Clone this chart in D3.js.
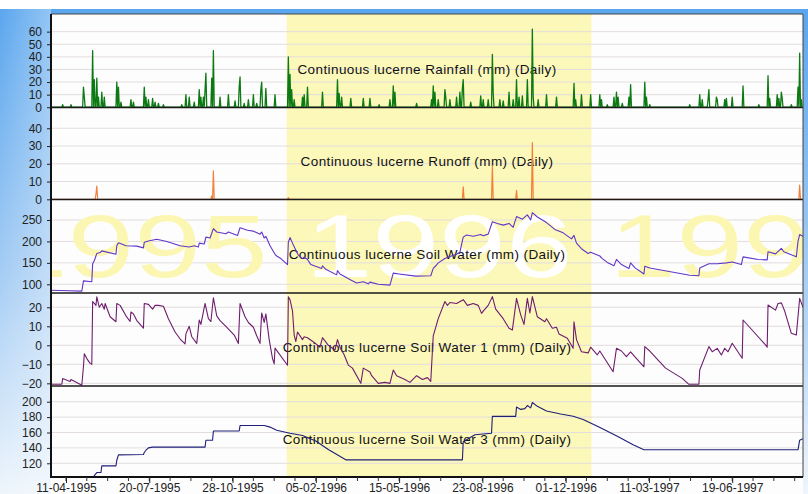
<!DOCTYPE html>
<html><head><meta charset="utf-8">
<script src="https://cdn.jsdelivr.net/npm/d3@7"></script>
<style>
html,body{margin:0;padding:0;background:#fff;}
svg{display:block;font-family:"Liberation Sans",Arial,sans-serif;}
</style></head><body>
<svg id="chart" width="808" height="494"></svg>
<script>
// Daily rainfall events (mm); days not listed had no rain
const rainfall = [
["1995-04-07",2],["1995-04-17",2],["1995-05-02",16],["1995-05-03",8],["1995-05-13",45],["1995-05-15",22],["1995-05-18",23],["1995-05-20",8],["1995-05-24",12],["1995-05-27",8],["1995-06-11",20],["1995-06-13",16],["1995-06-16",4],["1995-06-28",6],["1995-07-01",4],["1995-07-14",16],["1995-07-16",8],["1995-07-19",6],["1995-07-24",7],["1995-07-27",4],["1995-07-31",3],["1995-08-06",2],["1995-08-28",2],["1995-09-02",10],["1995-09-06",8],["1995-09-12",4],["1995-09-18",14],["1995-09-20",8],["1995-09-23",8],["1995-09-25",14],["1995-09-26",27],["1995-10-03",23],["1995-10-05",45],["1995-10-13",8],["1995-10-23",10],["1995-10-31",5],["1995-11-05",16],["1995-11-06",24],["1995-11-11",3],["1995-11-16",6],["1995-11-22",10],["1995-11-26",3],["1995-12-01",14],["1995-12-02",20],["1995-12-07",15],["1995-12-18",10],
["1996-01-03",40],["1996-01-05",26],["1996-01-07",14],["1996-01-10",6],["1996-01-20",8],["1996-01-22",10],["1996-01-26",16],["1996-02-13",12],["1996-03-02",22],["1996-03-04",11],["1996-03-07",8],["1996-03-18",7],["1996-04-02",7],["1996-04-10",7],["1996-04-21",2],["1996-05-04",6],["1996-05-08",17],["1996-05-10",12],["1996-06-05",3],["1996-06-23",6],["1996-06-25",17],["1996-06-27",12],["1996-07-01",6],["1996-07-09",14],["1996-07-10",8],["1996-07-15",6],["1996-07-23",8],["1996-07-27",12],["1996-07-30",15],["1996-07-31",22],["1996-08-09",4],["1996-08-21",9],["1996-08-24",6],["1996-08-30",6],["1996-09-04",42],["1996-09-05",11],["1996-09-13",6],["1996-09-17",5],["1996-09-24",12],["1996-09-29",6],["1996-10-03",22],["1996-10-06",8],["1996-10-10",9],["1996-10-16",22],["1996-10-22",62],["1996-10-23",8],["1996-10-29",6],["1996-11-08",10],["1996-11-20",8],["1996-12-11",19],["1996-12-13",6],["1996-12-20",10],["1996-12-31",10],
["1997-01-11",10],["1997-01-13",6],["1997-01-20",2],["1997-01-28",8],["1997-01-31",12],["1997-02-02",8],["1997-02-07",3],["1997-02-15",8],["1997-02-17",18],["1997-03-06",20],["1997-03-08",8],["1997-03-12",2],["1997-04-29",2],["1997-05-11",10],["1997-05-14",6],["1997-05-21",6],["1997-05-22",14],["1997-05-31",8],["1997-06-01",6],["1997-06-10",6],["1997-06-12",7],["1997-06-19",8],["1997-07-02",17],["1997-07-21",2],["1997-08-01",25],["1997-08-03",7],["1997-08-12",10],["1997-08-14",7],["1997-08-17",12],["1997-08-18",7],["1997-08-29",2],["1997-09-06",16],["1997-09-08",43],["1997-09-10",6]
];

// Daily runoff events (mm)
const runoff = [
["1995-05-17",3],["1995-05-18",7.5],["1995-10-03",2],["1995-10-05",16],["1996-01-03",1],["1996-07-31",7],["1996-09-04",19],["1996-10-03",5],["1996-10-22",32],["1997-09-08",8]
];

// Soil water, whole profile (mm)
const soilWater = [
["1995-03-24",86],["1995-04-15",85],["1995-04-30",84],["1995-05-02",108],["1995-05-12",106],["1995-05-13",148],["1995-05-15",155],["1995-05-18",172],["1995-05-22",174],["1995-05-24",178],["1995-06-10",170],["1995-06-11",190],["1995-06-13",197],["1995-06-22",190],["1995-07-05",189],["1995-07-13",185],["1995-07-14",198],["1995-07-19",201],["1995-07-29",205],["1995-08-10",200],["1995-08-26",190],["1995-09-06",187],["1995-09-12",190],["1995-09-17",187],["1995-09-18",196],["1995-09-24",194],["1995-09-26",210],["1995-10-01",208],["1995-10-05",230],["1995-10-09",222],["1995-10-20",218],["1995-10-23",222],["1995-11-03",214],["1995-11-06",232],["1995-11-15",226],["1995-11-22",224],["1995-11-30",217],["1995-12-02",222],["1995-12-05",208],["1995-12-07",212],["1995-12-12",190],["1995-12-18",170],["1995-12-20",166],["1995-12-25",160],
["1996-01-02",146],["1996-01-03",198],["1996-01-05",209],["1996-01-08",196],["1996-01-15",168],["1996-01-20",160],["1996-01-22",163],["1996-01-26",158],["1996-01-30",146],["1996-02-12",137],["1996-02-13",143],["1996-02-17",135],["1996-03-01",122],["1996-03-02",132],["1996-03-05",124],["1996-03-18",110],["1996-03-25",103],["1996-04-02",106],["1996-04-08",101],["1996-04-10",105],["1996-04-20",100],["1996-05-04",98],["1996-05-08",126],["1996-05-15",124],["1996-06-04",119],["1996-06-22",120],["1996-06-25",137],["1996-06-29",145],["1996-07-01",150],["1996-07-09",160],["1996-07-15",165],["1996-07-23",170],["1996-07-27",175],["1996-07-31",210],["1996-08-04",215],["1996-08-12",212],["1996-08-21",216],["1996-08-24",213],["1996-08-30",217],["1996-09-04",246],["1996-09-10",242],["1996-09-17",238],["1996-09-24",242],["1996-09-29",233],["1996-10-03",258],["1996-10-10",252],["1996-10-16",262],["1996-10-20",250],["1996-10-22",267],["1996-10-28",257],["1996-11-08",244],["1996-11-18",228],["1996-11-28",220],["1996-12-08",206],["1996-12-11",214],["1996-12-14",196],["1996-12-20",183],["1996-12-28",172],["1996-12-31",175],
["1997-01-11",166],["1997-01-14",160],["1997-01-20",151],["1997-01-28",143],["1997-01-31",158],["1997-02-06",146],["1997-02-15",137],["1997-02-17",150],["1997-02-22",139],["1997-03-05",124],["1997-03-06",142],["1997-03-12",138],["1997-04-01",131],["1997-04-29",121],["1997-05-10",120],["1997-05-11",138],["1997-05-22",148],["1997-06-01",148],["1997-06-12",150],["1997-06-19",152],["1997-06-30",146],["1997-07-02",164],["1997-07-20",158],["1997-07-31",157],["1997-08-01",176],["1997-08-10",171],["1997-08-17",184],["1997-08-20",176],["1997-09-04",164],["1997-09-06",200],["1997-09-08",216],["1997-09-12",212]
];

// Soil water, layer 1 (mm)
const soilWater1 = [
["1995-03-24",-20.5],["1995-04-06",-20.5],["1995-04-07",-17.5],["1995-04-16",-19],["1995-04-17",-18],["1995-04-30",-21],["1995-05-02",-11],["1995-05-03",-4.5],["1995-05-06",-7],["1995-05-10",-9.5],["1995-05-12",-10],["1995-05-13",23],["1995-05-15",22],["1995-05-17",21],["1995-05-18",25.5],["1995-05-21",20],["1995-05-24",22],["1995-05-27",19],["1995-05-28",22],["1995-06-03",15],["1995-06-10",12.4],["1995-06-11",22],["1995-06-15",21],["1995-06-22",15.5],["1995-06-27",12.5],["1995-06-28",17.5],["1995-07-01",16.5],["1995-07-05",13],["1995-07-13",9],["1995-07-14",22],["1995-07-19",21.5],["1995-07-24",19],["1995-07-27",21],["1995-07-31",21],["1995-08-06",20.5],["1995-08-12",14],["1995-08-20",7],["1995-08-27",2.8],["1995-09-01",0.7],["1995-09-02",6],["1995-09-06",10],["1995-09-09",4.5],["1995-09-15",1],["1995-09-18",13.3],["1995-09-20",11],["1995-09-25",22],["1995-09-29",14],["1995-10-02",12.5],["1995-10-05",25],["1995-10-09",15.5],["1995-10-13",13],["1995-10-20",10],["1995-10-30",5.4],["1995-11-04",1],["1995-11-06",22],["1995-11-12",15],["1995-11-16",12],["1995-11-22",9.5],["1995-11-26",5],["1995-11-30",1],["1995-12-02",17],["1995-12-05",12],["1995-12-07",16.5],["1995-12-11",3],["1995-12-15",-7],["1995-12-17",-9.8],["1995-12-18",-1.5],
["1996-01-02",-10.5],["1996-01-03",25.5],["1996-01-05",24],["1996-01-08",18],["1996-01-10",5.4],["1996-01-12",2],["1996-01-14",7],["1996-01-20",3],["1996-01-22",4.5],["1996-01-26",4],["1996-02-03",1.5],["1996-02-10",-1],["1996-02-13",4],["1996-02-20",0],["1996-02-28",-2.5],["1996-03-02",3],["1996-03-05",-1],["1996-03-10",-5],["1996-03-15",-10.4],["1996-03-20",-12],["1996-03-30",-20],["1996-04-02",-12],["1996-04-10",-14],["1996-04-12",-16],["1996-04-20",-20],["1996-04-28",-19.5],["1996-05-04",-20],["1996-05-08",-13],["1996-05-12",-16],["1996-05-22",-18],["1996-05-28",-19.5],["1996-06-05",-16],["1996-06-12",-18],["1996-06-18",-17],["1996-06-22",-19],["1996-06-25",5],["1996-07-01",14],["1996-07-09",23],["1996-07-12",21],["1996-07-15",22.5],["1996-07-23",22],["1996-07-31",24],["1996-08-05",21],["1996-08-12",22],["1996-08-18",21],["1996-08-22",16.8],["1996-08-24",18],["1996-08-30",21],["1996-09-04",25.6],["1996-09-08",19],["1996-09-17",14],["1996-09-24",9],["1996-09-28",8],["1996-10-03",24.7],["1996-10-08",16],["1996-10-12",11],["1996-10-16",24.7],["1996-10-19",17],["1996-10-22",25.6],["1996-10-28",15],["1996-11-06",12.4],["1996-11-08",14],["1996-11-15",9],["1996-11-20",9.5],["1996-11-23",6],["1996-12-03",3.7],["1996-12-10",-1.6],["1996-12-11",12.4],["1996-12-14",3],["1996-12-20",-3.4],["1996-12-28",-4],["1996-12-31",-1],
["1997-01-08",-5],["1997-01-11",-3],["1997-01-27",-13.9],["1997-01-31",-1.6],["1997-02-06",-3],["1997-02-12",-6],["1997-02-17",-3.5],["1997-02-22",-6],["1997-03-05",-11.3],["1997-03-06",-0.7],["1997-03-12",-3],["1997-03-31",-12],["1997-04-20",-17.4],["1997-04-28",-20.5],["1997-05-10",-20.5],["1997-05-11",-13],["1997-05-22",-0.7],["1997-05-26",-3.4],["1997-06-01",-1.6],["1997-06-06",-5.1],["1997-06-10",-1.6],["1997-06-14",-3.4],["1997-06-19",1.1],["1997-07-01",-6.8],["1997-07-02",13.3],["1997-07-29",0.2],["1997-07-31",-1],["1997-08-01",21.2],["1997-08-10",18.5],["1997-08-13",22],["1997-08-17",22.3],["1997-08-21",18],["1997-08-29",6.3],["1997-09-04",5.4],["1997-09-08",24.7],["1997-09-12",20]
];

// Soil water, layer 3 (mm)
const soilWater3 = [
["1995-03-24",96],["1995-05-13",96],["1995-05-15",104],["1995-05-18",108],["1995-05-23",108],["1995-05-24",116.6],["1995-06-10",116.6],["1995-06-11",124],["1995-06-13",131],["1995-07-13",131.5],["1995-07-14",134],["1995-07-16",137],["1995-07-19",140],["1995-07-24",141],["1995-09-25",141],["1995-09-26",150],["1995-10-04",150],["1995-10-05",162],["1995-11-05",162],["1995-11-06",169],["1995-12-05",169],["1995-12-12",167],["1995-12-20",163],
["1996-01-05",159],["1996-01-20",156],["1996-02-05",149],["1996-02-20",138],["1996-03-12",124.5],["1996-07-30",124.5],["1996-07-31",148],["1996-08-06",152],["1996-08-14",157],["1996-09-03",159],["1996-09-04",181],["1996-10-02",181],["1996-10-03",193],["1996-10-08",190],["1996-10-13",191],["1996-10-16",195],["1996-10-20",192],["1996-10-22",199],["1996-10-28",194],["1996-11-08",188],["1996-11-25",184],["1996-12-10",181],["1996-12-22",177],
["1997-01-10",167],["1997-02-01",155],["1997-02-20",144],["1997-03-05",137.5],["1997-09-06",137.5],["1997-09-08",150],["1997-09-12",152]
];

const dateTicks = ["1995-04-11","1995-07-20","1995-10-28","1996-02-05","1996-05-15","1996-08-23","1996-12-01","1997-03-11","1997-06-19"];
const years = ["1995","1996","1997"];
const rainTicks = [0,10,20,30,40,50,60];
const runoffTicks = [0,10,20,30,40];
const swTicks = [100,150,200,250];
const sw1Ticks = [-20,-10,0,10,20];
const sw3Ticks = [120,140,160,180,200];

const parse = d3.utcParse("%Y-%m-%d");
const fmtKey = d3.utcFormat("%Y-%m-%d");
const fmtTick = d3.utcFormat("%d-%m-%Y");
const start = parse("1995-03-24"), end = parse("1997-09-12");

// expand sparse daily events into a full daily series (zero on dry days)
function daily(events){
  const m = new Map(events);
  return d3.utcDay.range(start, d3.utcDay.offset(end,1)).map(d => [d, m.get(fmtKey(d)) || 0]);
}
const pts = arr => arr.map(([d,v]) => [parse(d), v]);

const L = 51, R = 803;
const x = d3.scaleUtc().domain([start, end]).range([L, R]);

const panels = [
  {title:"Continuous lucerne Rainfall (mm) (Daily)", data:daily(rainfall), ticks:rainTicks, domain:[-0.2,74], top:14, bottom:107.5, color:"#0b7a12", w:1.3},
  {title:"Continuous lucerne Runoff (mm) (Daily)", data:daily(runoff), ticks:runoffTicks, domain:[-0.1,51.7], top:107.5, bottom:199.5, color:"#f2803a", w:1.2},
  {title:"Continuous lucerne Soil Water (mm) (Daily)", data:pts(soilWater), ticks:swTicks, domain:[79.7,297.8], top:199.5, bottom:293, color:"#6236c8", w:1.1, watermark:true},
  {title:"Continuous lucerne Soil Water 1 (mm) (Daily)", data:pts(soilWater1), ticks:sw1Ticks, domain:[-21.4,27.5], top:293, bottom:386, color:"#6e1d6e", w:1.1},
  {title:"Continuous lucerne Soil Water 3 (mm) (Daily)", data:pts(soilWater3), ticks:sw3Ticks, domain:[102.2,220.4], top:386, bottom:477, color:"#1f1f78", w:1.1}
];

const svg = d3.select("#chart");
const defs = svg.append("defs");

// window frame gradient
const g1 = defs.append("linearGradient").attr("id","frameGrad").attr("x1",0).attr("y1",0).attr("x2",0).attr("y2",1);
g1.append("stop").attr("offset","0%").attr("stop-color","#5aa6ee");
g1.append("stop").attr("offset","55%").attr("stop-color","#a6cdf4");
g1.append("stop").attr("offset","100%").attr("stop-color","#eef5fc");
const g2 = defs.append("linearGradient").attr("id","frameGradH").attr("x1",0).attr("y1",0).attr("x2",1).attr("y2",0);
g2.append("stop").attr("offset","0%").attr("stop-color","#ffffff").attr("stop-opacity",0);
g2.append("stop").attr("offset","100%").attr("stop-color","#ffffff").attr("stop-opacity",0.35);

svg.append("rect").attr("x",0).attr("y",9).attr("width",808).attr("height",485).attr("fill","url(#frameGrad)");
svg.append("rect").attr("x",0).attr("y",9).attr("width",L).attr("height",485).attr("fill","url(#frameGradH)");
svg.append("rect").attr("x",L).attr("y",14).attr("width",R-L).attr("height",480).attr("fill","#fdfdfe");

// year 1996 band
const band = [parse("1996-01-01"), parse("1997-01-01")];
svg.append("rect").attr("x",x(band[0])).attr("y",14).attr("width",x(band[1])-x(band[0])).attr("height",477-14).attr("fill","#fcf8b9");

panels.forEach((p,i) => {
  const y = d3.scaleLinear().domain(p.domain).range([p.bottom, p.top]);
  const clipId = "clip"+i;
  defs.append("clipPath").attr("id",clipId).append("rect")
    .attr("x",L).attr("y",p.top).attr("width",R-L).attr("height",p.bottom-p.top);
  const g = svg.append("g");

  // grid lines
  g.selectAll("line.grid").data(p.ticks).join("line").attr("class","grid")
    .attr("x1",L).attr("x2",R).attr("y1",d=>y(d)).attr("y2",d=>y(d))
    .attr("stroke","#e3dddd").attr("stroke-width",1);

  // big year labels behind the soil water trace, held inside the panel
  if (p.watermark){
    const wm = g.append("svg").attr("x",L).attr("y",p.top)
      .attr("width",R-L).attr("height",p.bottom-p.top).attr("overflow","hidden");
    years.forEach(yr => {
      const cx = x(parse(yr+"-07-02")) - L;
      wm.append("text").attr("transform",`translate(${cx},${277-p.top}) scale(1.35,1)`)
        .attr("text-anchor","middle").attr("font-size",89)
        .attr("fill", yr==="1996" ? "#ffffff" : "#fbf7b2").text(yr);
    });
  }

  g.append("text").attr("x",(L+R)/2).attr("y",p.top+(p.bottom-p.top)*0.59+4.5)
    .attr("text-anchor","middle").attr("font-size",13.5).attr("letter-spacing",0.4)
    .attr("fill","#111").text(p.title);

  const line = d3.line().x(d=>x(d[0])).y(d=>y(d[1]));
  g.append("path").datum(p.data).attr("clip-path",`url(#${clipId})`)
    .attr("d",line).attr("fill","none").attr("stroke",p.color).attr("stroke-width",p.w)
    .attr("stroke-linejoin","round");

  // left axis
  const ax = d3.axisLeft(y).tickValues(p.ticks).tickSize(4).tickPadding(5);
  const axg = svg.append("g").attr("transform",`translate(${L},0)`).call(ax);
  axg.select(".domain").remove();
  axg.selectAll("line").attr("stroke","#222");
  axg.selectAll("text").attr("font-size",12).attr("fill","#222").attr("font-family","Liberation Sans, Arial, sans-serif");

  if (i>0) svg.append("line").attr("x1",L).attr("x2",R).attr("y1",p.top).attr("y2",p.top).attr("stroke","#1a1a1a").attr("stroke-width",1.5);
});

// frame
svg.append("line").attr("x1",L).attr("x2",R).attr("y1",14).attr("y2",14).attr("stroke","#444").attr("stroke-width",1);
svg.append("line").attr("x1",R).attr("x2",R).attr("y1",14).attr("y2",477).attr("stroke","#444").attr("stroke-width",1);
svg.append("line").attr("x1",L).attr("x2",L).attr("y1",14).attr("y2",478).attr("stroke","#111").attr("stroke-width",2);
svg.append("line").attr("x1",L).attr("x2",R).attr("y1",477).attr("y2",477).attr("stroke","#111").attr("stroke-width",2);

// bottom date axis: labelled ticks every 100 days, minor ticks every 25 days
const major = dateTicks.map(parse);
const minor = d3.utcDay.every(1).range(start, end).filter(d => (Math.round((d - major[0]) / 864e5) % 25 + 25) % 25 === 0);
svg.append("g").selectAll("line").data(minor).join("line")
  .attr("x1",d=>x(d)).attr("x2",d=>x(d)).attr("y1",477).attr("y2",481).attr("stroke","#333");
const bx = d3.axisBottom(x).tickValues(major).tickFormat(fmtTick).tickSize(6).tickPadding(6);
const bg = svg.append("g").attr("transform","translate(0,477)").call(bx);
bg.select(".domain").remove();
bg.selectAll("line").attr("stroke","#222");
bg.selectAll("text").attr("y",6.5).attr("dy","0.71em").attr("font-size",12).attr("fill","#222")
  .attr("font-family","Liberation Sans, Arial, sans-serif");
</script></body></html>
